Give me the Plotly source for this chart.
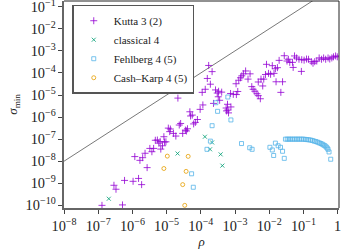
import numpy as np
import plotly.graph_objects as go

# ---- data (log10 values) ----
kutta_lrho = [-6.89, -6.29, -6.54, -6.48, -6.23, -5.98, -5.82, -5.73, -5.57, -5.93,
              -5.78, -5.70, -5.63, -5.49, -5.43, -5.38, -5.33, -5.27, -5.23, -5.17,
              -5.12, -5.02, -5.08, -4.91, -4.73, -4.53, -4.42, -4.95, -4.89, -4.80,
              -4.59, -4.63, -4.45, -4.39, -4.32, -4.25, -4.30, -4.10, -4.16, -4.21,
              -4.02, -3.94, -3.63, -4.67, -5.19, -5.06,
              -3.77, -3.67, -3.81, -3.72, -3.87, -3.96, -3.57, -3.52, -3.48, -3.39,
              -3.49, -3.45, -3.13, -3.05, -2.96, -2.92, -2.97, -3.26, -3.21, -3.25,
              -3.19, -3.12, -3.22,
              -2.89, -2.84, -2.80, -2.75, -2.69, -2.56, -2.62, -2.51, -2.47, -2.42,
              -2.36, -2.32, -2.26, -2.32, -2.24, -2.19, -2.16, -1.66, -1.80, -1.61,
              -2.08, -1.91, -1.82, -1.76, -1.71, -2.11, -2.02, -1.96, -1.86, -1.56,
              -1.48, -1.44, -1.40, -1.32, -1.30, -1.06, -1.26, -1.20, -1.13, -1.05,
              -0.98, -0.91, -0.85, -0.77, -0.72, -0.67, -0.61, -0.54, -0.47, -0.41,
              -0.35, -0.28, -0.23, -0.17, -0.12, -0.06, -0.01]
kutta_lsig = [-10.00, -9.98, -9.09, -9.27, -8.87, -8.91, -8.78, -9.06, -8.29, -7.79,
              -7.96, -7.84, -7.64, -7.42, -7.57, -7.42, -7.05, -7.04, -7.18, -7.45,
              -7.30, -7.12, -6.89, -6.66, -6.86, -6.74, -6.63, -6.50, -6.54, -6.74,
              -6.29, -6.36, -6.59, -6.53, -5.76, -5.91, -5.95, -6.11, -6.24, -6.31,
              -5.65, -5.45, -5.38, -5.14, -7.11, -7.13,
              -3.66, -3.94, -4.25, -4.51, -4.74, -4.88, -4.77, -4.91, -4.83, -4.87,
              -5.08, -5.24, -4.93, -4.97, -4.98, -4.84, -4.49, -5.59, -5.68, -5.72,
              -5.81, -5.54, -5.42,
              -4.33, -4.22, -4.13, -4.04, -3.91, -4.04, -4.28, -4.62, -4.74, -4.83,
              -4.94, -5.03, -5.17, -4.41, -4.28, -4.59, -4.28, -4.88, -4.40, -4.40,
              -3.61, -3.67, -3.81, -3.76, -3.43, -4.07, -4.02, -4.06, -4.02, -3.22,
              -3.46, -3.38, -3.52, -3.52, -3.75, -3.93, -3.23, -3.32, -3.38, -3.40,
              -3.42, -3.37, -3.38, -3.49, -3.56, -3.49, -3.46, -3.32, -3.38, -3.32,
              -3.38, -3.32, -3.37, -3.32, -3.27, -3.23, -3.27]

classical_lrho = [-6.69, -4.68, -3.88, -3.67, -3.73, -3.42, -3.37]
classical_lsig = [-9.70, -7.65, -6.89, -7.15, -7.46, -7.69, -8.20]

fehlberg_lrho = [-3.21, -3.56, -3.51, -3.12, -3.67, -3.72, -3.82, -4.27, -4.22, -2.81,
                 -2.57, -2.50, -1.98, -1.91, -1.87, -1.82, -1.74, -1.67, -1.61, -1.56,
                 -1.526, -1.474, -1.421, -1.371, -1.319, -1.266, -1.213, -1.161, -1.108,
                 -1.056, -1.003, -0.950, -0.898, -0.845, -0.792, -0.740, -0.687, -0.634,
                 -0.582, -0.535, -0.488, -0.447, -0.406, -0.371, -0.336, -0.307, -0.281,
                 -0.251, -0.202]
fehlberg_lsig = [-5.09, -5.35, -5.74, -6.13, -6.39, -7.09, -7.46, -8.57, -9.18, -7.20,
                 -7.39, -7.46, -7.37, -7.49, -7.74, -7.18, -7.30, -7.37, -7.55, -7.87,
                 -7.00, -7.00, -7.00, -7.00, -7.00, -7.00, -7.00, -7.00, -7.00,
                 -7.00, -7.00, -7.01, -7.02, -7.03, -7.04, -7.06, -7.09, -7.11,
                 -7.14, -7.17, -7.20, -7.23, -7.27, -7.30, -7.35, -7.40, -7.46,
                 -7.58, -7.91]

cashkarp_lrho = [-4.98, -4.37, -5.08, -4.43, -4.53, -4.47]
cashkarp_lsig = [-7.77, -7.78, -8.33, -8.46, -9.06, -10.00]

ref_rho = [1e-8, 1.0]
ref_sig = [1e-8, 1.0]

series = [
    ("Kutta 3 (2)", kutta_lrho, kutta_lsig, "cross-thin-open", "#9400d3", 5),
    ("classical 4", classical_lrho, classical_lsig, "x-thin-open", "#009e73", 4),
    ("Fehlberg 4 (5)", fehlberg_lrho, fehlberg_lsig, "square-open", "#56b4e9", 4),
    ("Cash\u2013Karp 4 (5)", cashkarp_lrho, cashkarp_lsig, "circle-open", "#e69f00", 4),
]

FONT = "Liberation Serif"

fig = go.Figure()
fig.add_trace(go.Scatter(x=ref_rho, y=ref_sig, mode="lines",
                         line=dict(color="#555555", width=0.8),
                         showlegend=False, hoverinfo="skip"))
for name, lx, ly, sym, col, sz in series:
    fig.add_trace(go.Scatter(
        x=10 ** np.array(lx), y=10 ** np.array(ly), mode="markers", name=name,
        marker=dict(symbol=sym, size=sz, color=col, opacity=0.8,
                    line=dict(color=col, width=1))))

axis_common = dict(type="log", dtick=1, exponentformat="power", showexponent="all",
                   ticks="outside", ticklen=4, tickwidth=1, tickcolor="#444",
                   showgrid=False, zeroline=False, showline=True,
                   linecolor="#666", linewidth=2, automargin=False,
                   ticklabeloverflow="allow",
                   tickfont=dict(family=FONT, size=11.5, color="#222"))
fig.update_xaxes(**axis_common, range=[-8, 0.04],
                 title=dict(text="<i>ρ</i>", font=dict(family=FONT, size=13, color="#222"),
                            standoff=4))
fig.update_yaxes(**axis_common, range=[-10.12, -0.74],
                 title=dict(text="<i>σ</i><sub>min</sub>",
                            font=dict(family=FONT, size=13, color="#222"), standoff=5))

fig.update_layout(
    width=341, height=250,
    margin=dict(l=64, r=2, t=1, b=42),
    paper_bgcolor="white", plot_bgcolor="white",
    font=dict(family=FONT, size=11, color="#222"),
    legend=dict(x=0.03, y=0.982, xanchor="left", yanchor="top",
                bgcolor="white", bordercolor="#555", borderwidth=1.5,
                font=dict(family=FONT, size=11, color="#222"),
                tracegroupgap=0, itemwidth=30),
    shapes=[
        dict(type="line", xref="paper", yref="paper", x0=0, x1=1, y0=1, y1=1,
             line=dict(color="#222", width=1)),
        dict(type="line", xref="paper", yref="paper", x0=1, x1=1, y0=0, y1=1,
             line=dict(color="#222", width=1)),
    ],
)

fig.write_html("out.html", config={"displayModeBar": False},
               post_script="document.body.style.margin='0';document.body.style.padding='0';")
